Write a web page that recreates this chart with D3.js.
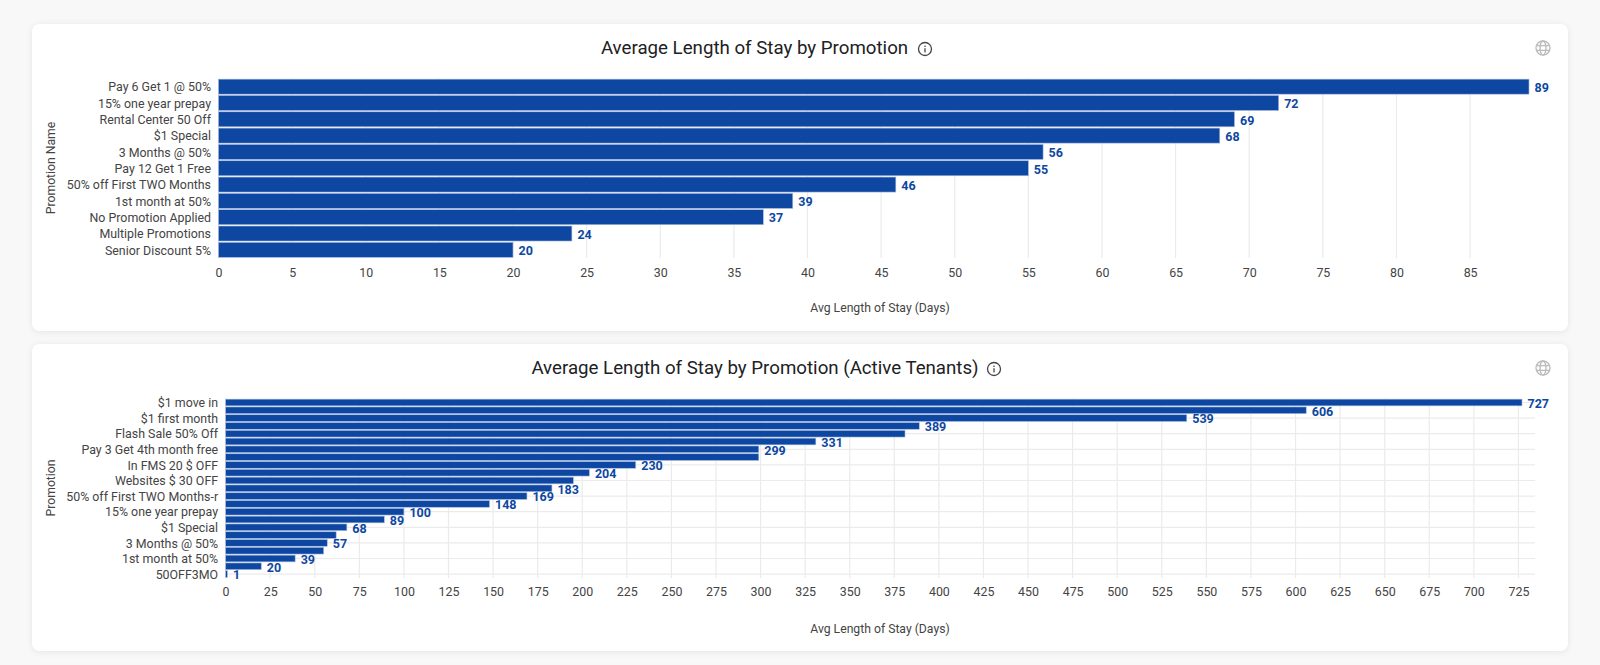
<!DOCTYPE html>
<html>
<head>
<meta charset="utf-8">
<script src="https://cdn.jsdelivr.net/npm/d3@7"></script>
<style>
  html, body { margin: 0; padding: 0; background: #f8f8f8; }
  svg { display: block; }
  text { font-family: Roboto, sans-serif; }
</style>
</head>
<body>
<svg id="chart" width="1600" height="665"></svg>
<script>
// top chart
var promoNames = ["Pay 6 Get 1 @ 50%", "15% one year prepay", "Rental Center 50 Off", "$1 Special", "3 Months @ 50%",
  "Pay 12 Get 1 Free", "50% off First TWO Months", "1st month at 50%", "No Promotion Applied", "Multiple Promotions", "Senior Discount 5%"];
var promoValues = [89, 72, 69, 68, 56, 55, 46, 39, 37, 24, 20];
var promoTicks = d3.range(0, 90, 5);

// bottom chart, only every second category name is readable
var activeNames = ["$1 move in", "", "$1 first month", "", "Flash Sale 50% Off", "", "Pay 3 Get 4th month free", "",
  "In FMS 20 $ OFF", "", "Websites $ 30 OFF", "", "50% off First TWO Months-r", "", "15% one year prepay", "",
  "$1 Special", "", "3 Months @ 50%", "", "1st month at 50%", "", "50OFF3MO"];
var activeValues = [727, 606, 539, 389, 381, 331, 299, 299, 230, 204, 195, 183, 169, 148, 100, 89, 68, 62, 57, 55, 39, 20, 1];
// bars without a number in the picture
var activeUnlabelled = [4, 7, 10, 17, 19];
var activeTicks = d3.range(0, 750, 25);

var barColor = "#0d47a1";
var gridColor = "#ebebeb";
var svg = d3.select("#chart");

// soft shadow under the cards
var defs = svg.append("defs");
var shadow = defs.append("filter").attr("id", "card-shadow")
  .attr("x", "-2%").attr("y", "-5%").attr("width", "104%").attr("height", "110%");
shadow.append("feDropShadow").attr("dx", 0).attr("dy", 1).attr("stdDeviation", 3)
  .attr("flood-color", "#000").attr("flood-opacity", 0.08);

function drawCard(cfg) {
  svg.append("rect")
    .attr("x", 32).attr("y", cfg.cardTop)
    .attr("width", 1536).attr("height", cfg.cardBottom - cfg.cardTop)
    .attr("rx", 8)
    .attr("fill", "#fff")
    .attr("filter", "url(#card-shadow)");

  var g = svg.append("g");

  var x = d3.scaleLinear().domain(cfg.domain).range(cfg.xRange);
  var y = d3.scaleBand()
    .domain(cfg.names.map((d, i) => i))
    .range(cfg.yRange)
    .paddingInner(cfg.padding)
    .paddingOuter(cfg.padding / 2);

  // vertical grid
  g.append("g").selectAll("line")
    .data(cfg.ticks)
    .join("line")
      .attr("x1", d => x(d)).attr("x2", d => x(d))
      .attr("y1", cfg.yRange[0]).attr("y2", cfg.yRange[1])
      .attr("stroke", gridColor)
      .attr("stroke-width", 1.2);

  // horizontal grid on the named rows
  if (cfg.gridRight) {
    g.append("g").selectAll("line")
      .data(cfg.names.map((d, i) => i).filter(i => cfg.names[i] !== ""))
      .join("line")
        .attr("x1", cfg.xRange[0]).attr("x2", cfg.gridRight)
        .attr("y1", d => y(d) + y.bandwidth() / 2).attr("y2", d => y(d) + y.bandwidth() / 2)
        .attr("stroke", gridColor)
        .attr("stroke-width", 1.2);
  }

  // bars
  g.append("g").selectAll("rect")
    .data(cfg.values)
    .join("rect")
      .attr("x", x(0))
      .attr("y", (d, i) => y(i))
      .attr("width", d => x(d) - x(0))
      .attr("height", y.bandwidth())
      .attr("fill", barColor)
      .attr("stroke", "#a9bbdf")
      .attr("stroke-width", 0.6);

  // numbers behind the bars
  g.append("g").selectAll("text")
    .data(cfg.values.map((v, i) => ({ v: v, i: i })).filter(d => cfg.unlabelled.indexOf(d.i) < 0))
    .join("text")
      .attr("x", d => x(d.v) + 5.5)
      .attr("y", d => y(d.i) + y.bandwidth() / 2)
      .attr("dy", "0.42em")
      .attr("fill", barColor)
      .style("font-size", "12.5px")
      .style("font-weight", 700)
      .text(d => d.v);

  // category labels
  g.append("g").selectAll("text")
    .data(cfg.names.map((n, i) => ({ n: n, i: i })).filter(d => d.n !== ""))
    .join("text")
      .attr("x", cfg.xRange[0] - 7.5)
      .attr("y", d => y(d.i) + y.bandwidth() / 2)
      .attr("dy", "0.38em")
      .attr("text-anchor", "end")
      .attr("fill", "#444")
      .style("font-size", "12.4px")
      .text(d => d.n);

  // x axis labels
  var axis = g.append("g")
    .attr("transform", "translate(0," + cfg.tickY + ")")
    .call(d3.axisBottom(x).tickValues(cfg.ticks).tickSize(0).tickPadding(0).tickFormat(d3.format("d")));
  axis.select(".domain").remove();
  axis.selectAll("text")
    .attr("fill", "#444")
    .style("font-size", "12.4px")
    .style("font-family", "Roboto, sans-serif");

  // axis titles
  g.append("text")
    .attr("x", 880).attr("y", cfg.xTitleY)
    .attr("text-anchor", "middle")
    .attr("fill", "#444")
    .style("font-size", "12.2px")
    .text("Avg Length of Stay (Days)");
  g.append("text")
    .attr("transform", "translate(55," + cfg.yTitleY + ") rotate(-90)")
    .attr("text-anchor", "middle")
    .attr("fill", "#444")
    .style("font-size", "12.2px")
    .text(cfg.yTitle);

  // chart title
  g.append("text")
    .attr("x", cfg.titleX).attr("y", cfg.titleY)
    .attr("text-anchor", "middle")
    .attr("fill", "#202124")
    .style("font-size", "18.7px")
    .text(cfg.title);

  drawInfo(g, cfg.infoX, cfg.iconY);
  drawGlobe(g, 1543, cfg.iconY - 1);
}

function drawInfo(g, cx, cy) {
  var icon = g.append("g").attr("transform", "translate(" + cx + "," + cy + ")");
  icon.append("circle").attr("r", 6.5).attr("fill", "none").attr("stroke", "#444").attr("stroke-width", 1.3);
  icon.append("rect").attr("x", -0.65).attr("y", -0.8).attr("width", 1.3).attr("height", 4.2).attr("fill", "#444");
  icon.append("rect").attr("x", -0.65).attr("y", -3.4).attr("width", 1.3).attr("height", 1.4).attr("fill", "#444");
}

function drawGlobe(g, cx, cy) {
  var icon = g.append("g").attr("transform", "translate(" + cx + "," + cy + ")")
    .attr("fill", "none").attr("stroke", "#bdbdbd").attr("stroke-width", 1.4);
  icon.append("circle").attr("r", 7);
  icon.append("ellipse").attr("rx", 3).attr("ry", 7);
  icon.append("line").attr("x1", -7).attr("x2", 7).attr("y1", -2.4).attr("y2", -2.4);
  icon.append("line").attr("x1", -7).attr("x2", 7).attr("y1", 2.4).attr("y2", 2.4);
}

drawCard({
  title: "Average Length of Stay by Promotion", titleX: 754.5, titleY: 54, infoX: 925, iconY: 49,
  cardTop: 24, cardBottom: 331,
  names: promoNames, values: promoValues, ticks: promoTicks, unlabelled: [],
  domain: [0, 89], xRange: [218.5, 1529], yRange: [78.5, 258], padding: 0.08,
  gridRight: 0, tickY: 268,
  xTitleY: 312, yTitle: "Promotion Name", yTitleY: 168
});

drawCard({
  title: "Average Length of Stay by Promotion (Active Tenants)", titleX: 755, titleY: 373.5, infoX: 994, iconY: 369,
  cardTop: 344, cardBottom: 651,
  names: activeNames, values: activeValues, ticks: activeTicks, unlabelled: activeUnlabelled,
  domain: [0, 727], xRange: [225.6, 1522], yRange: [398.6, 578], padding: 0.14,
  gridRight: 1535, tickY: 587,
  xTitleY: 633, yTitle: "Promotion", yTitleY: 488
});
</script>
</body>
</html>
